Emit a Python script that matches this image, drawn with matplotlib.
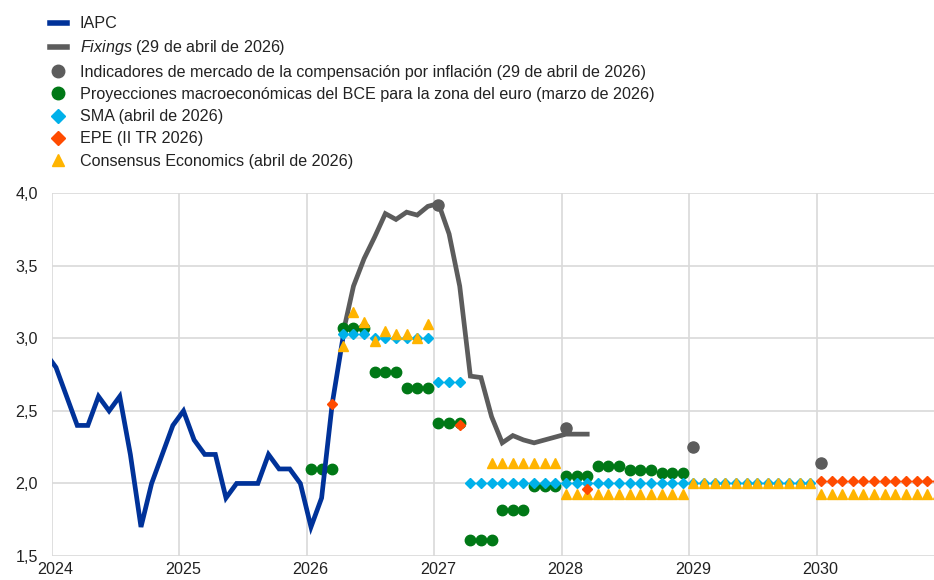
import numpy as np
import matplotlib.pyplot as plt
from matplotlib.lines import Line2D
from matplotlib.ticker import FuncFormatter
from matplotlib.transforms import ScaledTranslation

plt.rcParams['font.family'] = ['Liberation Sans', 'DejaVu Sans']
plt.rcParams['mathtext.fontset'] = 'custom'
plt.rcParams['mathtext.it'] = 'Liberation Sans:italic'
plt.rcParams['mathtext.rm'] = 'Liberation Sans'

# monthly data are drawn a bit after the start of each month
OFFSET = 0.4

# IAPC, monthly from December 2023 to April 2026
iapc_start = (2023, 12)
iapc = [2.9,
        2.8, 2.6, 2.4, 2.4, 2.6, 2.5, 2.6, 2.2, 1.7, 2.0, 2.2, 2.4,
        2.5, 2.3, 2.2, 2.2, 1.9, 2.0, 2.0, 2.0, 2.2, 2.1, 2.1, 2.0,
        1.7, 1.9, 2.55, 3.0]

# fixings, monthly from April 2026 to March 2028
fixings_start = (2026, 4)
fixings = [3.03, 3.36, 3.55, 3.70, 3.86, 3.82, 3.87, 3.85, 3.91,
           3.93, 3.72, 3.36, 2.74, 2.73, 2.46, 2.28, 2.33, 2.30, 2.28, 2.30, 2.32,
           2.34, 2.34, 2.34]

# market based inflation compensation (January of each year)
indic_years = [2027, 2028, 2029, 2030]
indic = [3.92, 2.38, 2.25, 2.14]

# ECB staff projections, quarterly from 2026 Q1
proy_start = (2026, 1)
proy_q = [2.10, 3.07, 2.77, 2.66, 2.42, 1.61, 1.82, 1.98, 2.05, 2.12, 2.09, 2.07]

# SMA, quarterly from 2026 Q2
sma_start = (2026, 4)
sma_q = [3.03, 3.00, 3.00, 2.70, 2.00, 2.00, 2.00, 2.00,
         2.00, 2.00, 2.00, 2.00, 2.00, 2.00, 2.00]

# EPE
epe_dates = [(2026, 3), (2027, 3), (2028, 3)]
epe = [2.55, 2.40, 1.96]
epe_lp_start = (2030, 1)
epe_lp_q = [2.02, 2.02, 2.02, 2.02]

# Consensus Economics
cons_start = (2026, 4)
cons_2026 = [2.95, 3.18, 3.11, 2.98, 3.05, 3.03, 3.03, 3.00, 3.10]
cons_from = [(2027, 6), (2028, 1), (2029, 1), (2030, 1)]
cons_len = [7, 12, 12, 12]
cons_block = [2.14, 1.93, 2.00, 1.93]

years = [2024, 2025, 2026, 2027, 2028, 2029, 2030]

BLUE = '#003299'
GREY = '#5c5c5c'
GREEN = '#007816'
LBLUE = '#00b1ea'
ORANGE = '#ff4b00'
YELLOW = '#ffb400'
FS = 11.6


def pos(year, month):
    return year + (month - 1 + OFFSET) / 12


def months(start, n):
    y, m = start
    return np.array([pos(y + (m - 1 + k) // 12, (m - 1 + k) % 12 + 1) for k in range(n)])


def quarters_to_months(start, values):
    vals = np.repeat(values, 3)
    return months(start, len(vals)), vals


fig = plt.figure(figsize=(9.34, 5.8), dpi=100)
ax = fig.add_axes([0.0554, 0.0414, 0.9446, 0.6253])

ax.plot(months(fixings_start, len(fixings)), fixings, color=GREY, lw=3.4, zorder=2,
        solid_joinstyle='miter')
ax.plot([pos(y, 1) for y in indic_years], indic, ls='none', marker='o', ms=8,
        color=GREY, zorder=3)

x, v = quarters_to_months(proy_start, proy_q)
ax.plot(x, v, ls='none', marker='o', ms=7.5, color=GREEN, zorder=3)

ax.plot(months(iapc_start, len(iapc)), iapc, color=BLUE, lw=3.4, zorder=4,
        solid_joinstyle='miter')

x, v = quarters_to_months(sma_start, sma_q)
ax.plot(x, v, ls='none', marker='D', ms=5.6, color=LBLUE, zorder=5)

ax.plot(months(cons_start, len(cons_2026)), cons_2026, ls='none', marker='^', ms=7.5,
        color=YELLOW, zorder=6)
for start, n, val in zip(cons_from, cons_len, cons_block):
    ax.plot(months(start, n), [val] * n, ls='none', marker='^', ms=7.5,
            color=YELLOW, zorder=6)

ax.plot([pos(y, m) for y, m in epe_dates], epe, ls='none', marker='D', ms=5.6,
        color=ORANGE, zorder=7)
x, v = quarters_to_months(epe_lp_start, epe_lp_q)
ax.plot(x, v, ls='none', marker='D', ms=5.6, color=ORANGE, zorder=7)

ax.set_xlim(2024, 2030.92)
ax.set_ylim(1.5, 4.0)
ax.set_xticks(years)
ax.set_xticklabels([str(y) for y in years])
ax.set_yticks(np.arange(1.5, 4.01, 0.5))
ax.yaxis.set_major_formatter(FuncFormatter(lambda v, p: f'{v:.1f}'.replace('.', ',')))
ax.grid(True, color='#d9d9d9', lw=1.2)
ax.set_axisbelow(True)
for s in ax.spines.values():
    s.set_visible(False)
ax.tick_params(length=0, labelsize=FS, colors='#222222')
ax.tick_params(axis='y', pad=10)
ax.tick_params(axis='x', pad=4)
for lab in ax.get_xticklabels():
    lab.set_transform(lab.get_transform() + ScaledTranslation(0.04, 0, fig.dpi_scale_trans))

handles = [
    Line2D([], [], color=BLUE, lw=4),
    Line2D([], [], color=GREY, lw=4),
    Line2D([], [], ls='none', marker='o', ms=9, color=GREY),
    Line2D([], [], ls='none', marker='o', ms=9, color=GREEN),
    Line2D([], [], ls='none', marker='D', ms=7, color=LBLUE),
    Line2D([], [], ls='none', marker='D', ms=7, color=ORANGE),
    Line2D([], [], ls='none', marker='^', ms=9, color=YELLOW),
]
labels = [
    'IAPC',
    r'$\it{Fixings}$ (29 de abril de 2026)',
    'Indicadores de mercado de la compensación por inflación (29 de abril de 2026)',
    'Proyecciones macroeconómicas del BCE para la zona del euro (marzo de 2026)',
    'SMA (abril de 2026)',
    'EPE (II TR 2026)',
    'Consensus Economics (abril de 2026)',
]
fig.legend(handles, labels, loc='upper left', bbox_to_anchor=(0.0535, 0.972),
           frameon=False, fontsize=FS, handlelength=1.05, handletextpad=0.8,
           labelspacing=0.45, borderpad=0, borderaxespad=0, labelcolor='#222222')

fig.savefig('out.png', dpi=100)
